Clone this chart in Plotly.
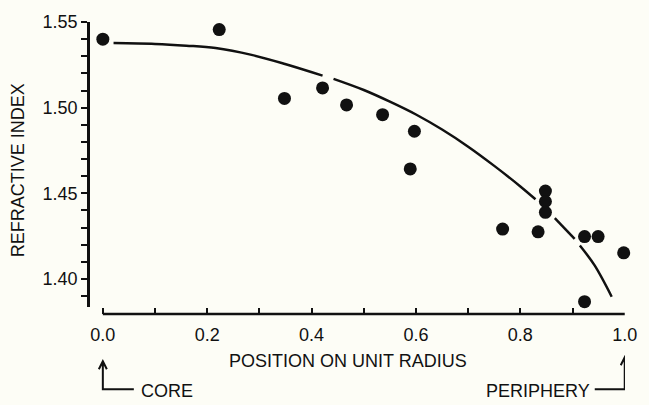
import plotly.graph_objects as go

# Measured points (position on unit radius, refractive index)
pos = [0.0, 0.223, 0.348, 0.421, 0.467, 0.536, 0.597, 0.589, 0.848, 0.848, 0.848,
       0.766, 0.834, 0.923, 0.949, 0.998, 0.923]
ri = [1.540, 1.5456, 1.5054, 1.5115, 1.5016, 1.4959, 1.4862, 1.4642, 1.4513, 1.4452, 1.4389,
      1.4291, 1.4275, 1.4247, 1.4247, 1.4152, 1.3867]

# Fitted curve (None = gap in the drawn line)
curve_x = [0.0205, 0.10, 0.16, 0.216, 0.285, 0.349, 0.421, None,
           0.442, 0.50, 0.55, 0.60, 0.65, 0.70, 0.75, 0.80, 0.829, None,
           0.866, 0.904, None,
           0.914, 0.942, 0.975]
curve_y = [1.5377, 1.5372, 1.5362, 1.5348, 1.5308, 1.5255, 1.5187, None,
           1.5168, 1.5103, 1.5035, 1.4960, 1.4872, 1.4772, 1.4660, 1.4540, 1.4465, None,
           1.4355, 1.4234, None,
           1.4195, 1.4080, 1.3896]

BG = "#fdfdf6"
FONT = "Liberation Sans, Arial, Helvetica, sans-serif"
BLACK = "#111111"

fig = go.Figure()
fig.add_trace(go.Scatter(x=curve_x, y=curve_y, mode="lines", connectgaps=False,
                         line=dict(color=BLACK, width=2.5, shape="spline", smoothing=1.0),
                         hoverinfo="skip", showlegend=False))
fig.add_trace(go.Scatter(x=pos, y=ri, mode="markers", cliponaxis=False,
                         marker=dict(color=BLACK, size=13, line=dict(width=0)),
                         showlegend=False))

# geometry (pixels)
L, R, T, B = 90, 632, 15, 314
H = B - T
ydom0 = 7 / H

fig.update_layout(
    width=649, height=405,
    margin=dict(l=L, r=649 - R, t=T, b=405 - B, pad=0),
    paper_bgcolor=BG, plot_bgcolor=BG,
    font=dict(family=FONT, size=18, color=BLACK),
    xaxis=dict(range=[-0.0246, 1.0005], anchor="free", position=0,
               tickmode="linear", tick0=0, dtick=0.2, tickformat=".1f",
               ticks="inside", ticklen=6, tickwidth=2, tickcolor=BLACK,
               minor=dict(tickmode="linear", tick0=0, dtick=0.1, ticks="inside", ticklen=6,
                          tickwidth=2, tickcolor=BLACK),
               ticklabelstandoff=8,
               showline=False, showgrid=False, zeroline=False,
               tickfont=dict(size=18)),
    yaxis=dict(range=[1.3835, 1.55], domain=[ydom0, 1], anchor="x",
               tickmode="linear", tick0=1.40, dtick=0.05, tickformat=".2f",
               ticks="outside", ticklen=6, tickwidth=2, tickcolor=BLACK,
               minor=dict(tickmode="linear", tick0=1.40, dtick=0.01, ticks="outside", ticklen=6,
                          tickwidth=2, tickcolor=BLACK),
               showline=True, linewidth=2.5, linecolor=BLACK,
               showgrid=False, zeroline=False, tickfont=dict(size=18)),
)

# x axis line from 0 to 1
fig.add_shape(type="line", xref="x", yref="paper", x0=0, x1=1.0, y0=0, y1=0,
              line=dict(color=BLACK, width=2.5))

def py(px):
    return (B - px) / H

# bracket arrows
fig.add_shape(type="path", xref="x", yref="paper", xsizemode="pixel", ysizemode="pixel",
              xanchor=0.0, yanchor=py(391),
              path="M 31,0 L 0,0 L 0,28 M -4,20 L 0,28 L 4,20",
              line=dict(color=BLACK, width=2))
fig.add_shape(type="path", xref="x", yref="paper", xsizemode="pixel", ysizemode="pixel",
              xanchor=1.0, yanchor=py(391),
              path="M -30,0 L 0,0 L 0,32 M -4,24 L 0,32 L 4,24",
              line=dict(color=BLACK, width=2))

fig.add_annotation(text="CORE", xref="x", yref="paper", x=(140 - 103) / 529, y=py(393),
                   xanchor="left", yanchor="middle", showarrow=False, font=dict(size=18))
fig.add_annotation(text="PERIPHERY", xref="x", yref="paper", x=(599 - 103) / 529, y=py(393),
                   xanchor="right", yanchor="middle", showarrow=False, font=dict(size=18))
fig.add_annotation(text="POSITION ON UNIT RADIUS", xref="x", yref="paper", x=(351 - 103) / 529,
                   y=py(362), xanchor="center", yanchor="middle", showarrow=False, font=dict(size=18))
fig.add_annotation(text="REFRACTIVE INDEX", xref="paper", yref="paper", x=(18 - L) / (R - L),
                   y=py(167), xanchor="center", yanchor="middle", textangle=-90,
                   showarrow=False, font=dict(size=18))

fig.write_html("out.html")
